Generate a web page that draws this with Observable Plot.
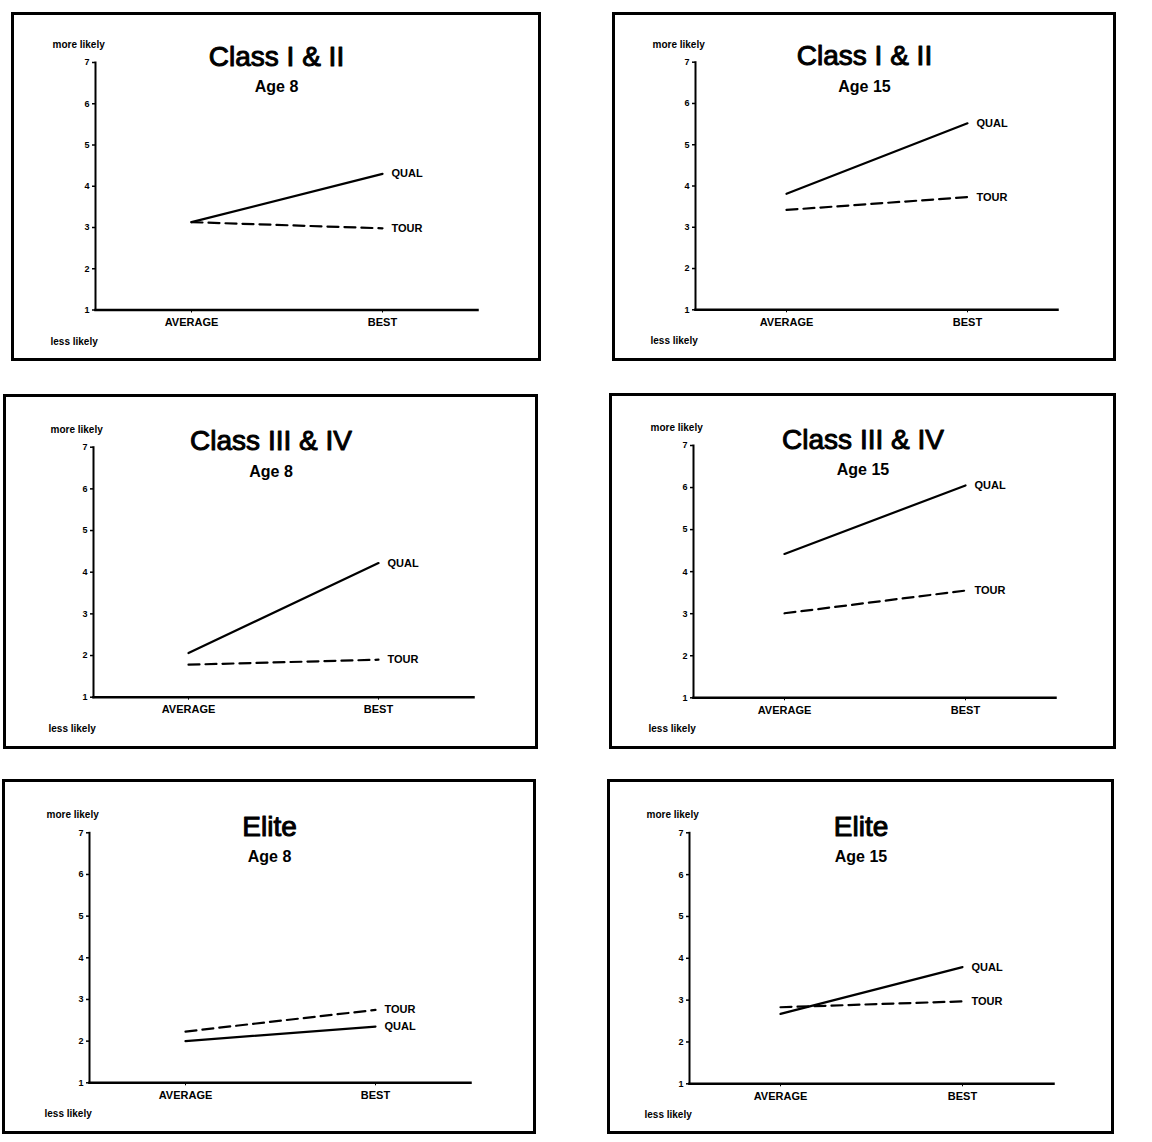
<!DOCTYPE html>
<html>
<head>
<meta charset="utf-8">
<script src="https://cdn.jsdelivr.net/npm/d3@7"></script>
<script src="https://cdn.jsdelivr.net/npm/@observablehq/plot@0.6"></script>
<style>
  html, body { margin: 0; padding: 0; background: #fff; }
  #page { position: relative; width: 1152px; height: 1142px; background: #fff; overflow: hidden; }
  .panel { position: absolute; box-sizing: border-box; border: 3px solid #000; background: #fff; }
  .panel svg { display: block; overflow: visible; }
</style>
</head>
<body>
<div id="page"></div>
<script>
// ---- data ----
const categories = ["AVERAGE", "BEST"];
const seriesNames = ["QUAL", "TOUR"];
const panelTitles = ["Class I & II", "Class I & II", "Class III & IV", "Class III & IV", "Elite", "Elite"];
const panelAges = ["Age 8", "Age 15", "Age 8", "Age 15", "Age 8", "Age 15"];
const qualValues = [[3.13, 4.30], [3.81, 5.52], [2.06, 4.22], [4.42, 6.05], [2.00, 2.35], [2.67, 3.79]];
const tourValues = [[3.13, 2.98], [3.42, 3.73], [1.78, 1.90], [3.01, 3.55], [2.23, 2.75], [2.83, 2.97]];
const yTicks = [1, 2, 3, 4, 5, 6, 7];
const topNote = "more likely";
const bottomNote = "less likely";

// ---- layout (page pixels): outer box, frame x-extent, frame y-extent ----
const panelLayout = [
  {box: [11, 12, 541, 361], fx: [95, 477], fy: [62, 309.5]},
  {box: [612, 12, 1116, 361], fx: [695, 1057], fy: [61.7, 309.3]},
  {box: [3, 394, 538, 749], fx: [93, 473], fy: [446.7, 696.7]},
  {box: [609, 393, 1116, 749], fx: [693, 1055], fy: [445, 697.3]},
  {box: [2, 779, 536, 1134], fx: [89, 470], fy: [832.3, 1082.3]},
  {box: [607, 779, 1114, 1134], fx: [689, 1053], fy: [832.3, 1083.3]}
];
const B = 3; // border width
const font = "Liberation Sans, Arial, Helvetica, sans-serif";

const page = document.getElementById("page");

panelLayout.forEach((L, i) => {
  const [x0, y0, x1, y1] = L.box;
  const div = document.createElement("div");
  div.className = "panel";
  div.style.left = x0 + "px";
  div.style.top = y0 + "px";
  div.style.width = (x1 - x0) + "px";
  div.style.height = (y1 - y0) + "px";
  page.appendChild(div);

  const innerL = x0 + B, innerT = y0 + B;
  const W = x1 - x0 - 2 * B, H = y1 - y0 - 2 * B;
  const mL = L.fx[0] - innerL, mR = innerL + W - L.fx[1];
  const mT = L.fy[0] - innerT, mB = innerT + H - L.fy[1];
  const boxCenter = (x0 + x1) / 2;
  const frameCenter = (L.fx[0] + L.fx[1]) / 2;

  const rows = [];
  categories.forEach((c, j) => {
    rows.push({cat: c, value: qualValues[i][j], series: seriesNames[0]});
    rows.push({cat: c, value: tourValues[i][j], series: seriesNames[1]});
  });
  const qual = rows.filter(d => d.series === "QUAL");
  const tour = rows.filter(d => d.series === "TOUR");
  const ends = rows.filter(d => d.cat === categories[categories.length - 1]);

  const chart = Plot.plot({
    width: W,
    height: H,
    marginLeft: mL,
    marginRight: mR,
    marginTop: mT,
    marginBottom: mB,
    style: {fontFamily: font, color: "#000", background: "transparent", overflow: "visible"},
    x: {type: "point", domain: categories, padding: 0.5},
    y: {domain: [1, 7]},
    marks: [
      Plot.axisY({ticks: yTicks, tickFormat: d => d, tickSize: 3, tickPadding: 3, fontSize: 9, fontWeight: "bold", label: null, stroke: "#000", strokeWidth: 1.5}),
      Plot.axisX({tickSize: 3, tickPadding: 5, fontSize: 11, fontWeight: "bold", label: null, stroke: "#000"}),
      Plot.frame({anchor: "left", stroke: "#000", strokeWidth: 2}),
      Plot.frame({anchor: "bottom", stroke: "#000", strokeWidth: 2.5}),
      Plot.line(qual, {x: "cat", y: "value", stroke: "#000", strokeWidth: 2.2}),
      Plot.line(tour, {x: "cat", y: "value", stroke: "#000", strokeWidth: 2.2, strokeDasharray: "11,6"}),
      Plot.text(ends, {x: "cat", y: "value", text: "series", textAnchor: "start", dx: 9, fontSize: 11, fontWeight: "bold", fill: "#000"}),
      Plot.text([panelTitles[i]], {frameAnchor: "top", dx: boxCenter - frameCenter, dy: 3, lineAnchor: "bottom", fontSize: 28, fill: "#000", stroke: "#000", strokeWidth: 1}),
      Plot.text([panelAges[i]], {frameAnchor: "top", dx: boxCenter - frameCenter, dy: 29.5, lineAnchor: "bottom", fontSize: 16, fontWeight: "bold", fill: "#000"}),
      Plot.text([topNote], {frameAnchor: "top-left", dx: -43, dy: -14.5, textAnchor: "start", lineAnchor: "bottom", fontSize: 10, fontWeight: "bold", fill: "#000"}),
      Plot.text([bottomNote], {frameAnchor: "bottom-left", dx: -45, dy: 34.5, textAnchor: "start", lineAnchor: "bottom", fontSize: 10, fontWeight: "bold", fill: "#000"})
    ]
  });
  div.appendChild(chart);
});
</script>
</body>
</html>
